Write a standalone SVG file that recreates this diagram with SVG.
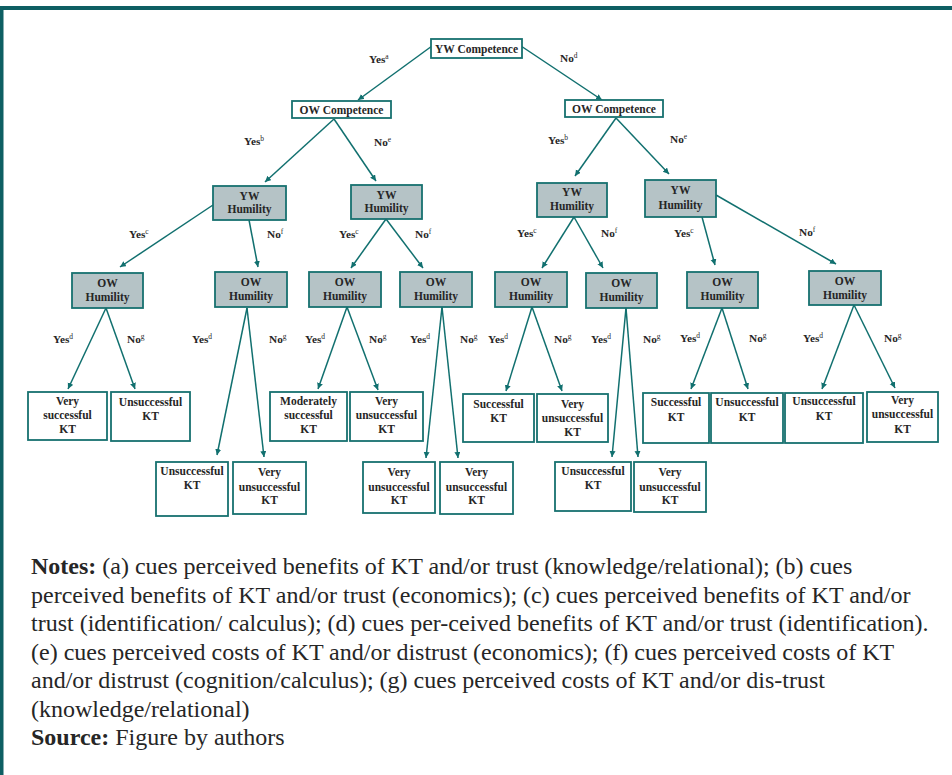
<svg xmlns="http://www.w3.org/2000/svg" width="952" height="775" viewBox="0 0 952 775">
<defs>
<marker id="ah" markerUnits="userSpaceOnUse" markerWidth="8" markerHeight="8" refX="6" refY="3" orient="auto">
<path d="M0,0 L6,3 L0,6 z" fill="#11706f"/>
</marker>
<style>
.frame{fill:#0e5f63}
.box{fill:#ffffff;stroke:#17716f;stroke-width:1.8}
.gbox{fill:#b5c3c6;stroke:#17716f;stroke-width:1.8}
.nt{font-family:"Liberation Serif","Times New Roman",serif;font-weight:bold;font-size:11.5px;fill:#262626;text-anchor:middle}
.lt{font-family:"Liberation Serif","Times New Roman",serif;font-weight:bold;font-size:11.3px;fill:#262626}
.sup{font-size:7.5px;font-weight:normal}
.edge{stroke:#11706f;stroke-width:1.5;fill:none;marker-end:url(#ah)}
.notes{font-family:"Liberation Serif","Times New Roman",serif;font-size:24px;fill:#262626}
.b{font-weight:bold}
</style>
</defs>
<rect x="0" y="0" width="952" height="775" fill="#ffffff"/>
<rect class="frame" x="0" y="6" width="952" height="4"/>
<rect class="frame" x="0" y="6" width="3.5" height="769"/>

<g id="connectors">
<line class="edge" x1="432" y1="46" x2="358" y2="100"/>
<line class="edge" x1="521" y1="46" x2="602" y2="100"/>
<line class="edge" x1="334" y1="119" x2="265" y2="182"/>
<line class="edge" x1="334" y1="119" x2="376" y2="181"/>
<line class="edge" x1="616" y1="118" x2="575" y2="176"/>
<line class="edge" x1="616" y1="118" x2="669" y2="174"/>
<line class="edge" x1="213" y1="205" x2="120" y2="267"/>
<line class="edge" x1="249" y1="220" x2="258" y2="267"/>
<line class="edge" x1="386" y1="219" x2="351" y2="268"/>
<line class="edge" x1="386" y1="219" x2="423" y2="268"/>
<line class="edge" x1="574" y1="217" x2="542" y2="268"/>
<line class="edge" x1="574" y1="217" x2="603" y2="268"/>
<line class="edge" x1="702" y1="217" x2="715" y2="265"/>
<line class="edge" x1="716" y1="195" x2="836" y2="264"/>
<line class="edge" x1="106" y1="308" x2="68" y2="389"/>
<line class="edge" x1="106" y1="308" x2="135" y2="389"/>
<line class="edge" x1="247" y1="308" x2="217" y2="455"/>
<line class="edge" x1="247" y1="308" x2="264" y2="457"/>
<line class="edge" x1="347" y1="307" x2="318" y2="389"/>
<line class="edge" x1="347" y1="307" x2="378" y2="390"/>
<line class="edge" x1="442" y1="307" x2="426" y2="458"/>
<line class="edge" x1="442" y1="307" x2="458" y2="458"/>
<line class="edge" x1="532" y1="307" x2="506" y2="391"/>
<line class="edge" x1="532" y1="307" x2="562" y2="391"/>
<line class="edge" x1="626" y1="308" x2="612" y2="457"/>
<line class="edge" x1="626" y1="308" x2="638" y2="457"/>
<line class="edge" x1="722" y1="308" x2="691" y2="389"/>
<line class="edge" x1="722" y1="308" x2="748" y2="389"/>
<line class="edge" x1="854" y1="305" x2="822" y2="389"/>
<line class="edge" x1="854" y1="305" x2="895" y2="388"/>
</g>

<g id="edge-labels">
<text class="lt" x="369" y="63">Yes<tspan class="sup" dy="-4">a</tspan></text>
<text class="lt" x="560" y="62">No<tspan class="sup" dy="-4">d</tspan></text>
<text class="lt" x="244" y="145">Yes<tspan class="sup" dy="-4">b</tspan></text>
<text class="lt" x="374" y="146">No<tspan class="sup" dy="-4">e</tspan></text>
<text class="lt" x="548" y="144">Yes<tspan class="sup" dy="-4">b</tspan></text>
<text class="lt" x="670" y="143">No<tspan class="sup" dy="-4">e</tspan></text>
<text class="lt" x="129" y="238">Yes<tspan class="sup" dy="-4">c</tspan></text>
<text class="lt" x="267" y="238">No<tspan class="sup" dy="-4">f</tspan></text>
<text class="lt" x="339" y="238">Yes<tspan class="sup" dy="-4">c</tspan></text>
<text class="lt" x="415" y="238">No<tspan class="sup" dy="-4">f</tspan></text>
<text class="lt" x="517" y="237">Yes<tspan class="sup" dy="-4">c</tspan></text>
<text class="lt" x="601" y="237">No<tspan class="sup" dy="-4">f</tspan></text>
<text class="lt" x="674" y="237">Yes<tspan class="sup" dy="-4">c</tspan></text>
<text class="lt" x="799" y="236">No<tspan class="sup" dy="-4">f</tspan></text>
<text class="lt" x="53" y="343">Yes<tspan class="sup" dy="-4">d</tspan></text>
<text class="lt" x="127" y="343">No<tspan class="sup" dy="-4">g</tspan></text>
<text class="lt" x="192" y="343">Yes<tspan class="sup" dy="-4">d</tspan></text>
<text class="lt" x="269" y="343">No<tspan class="sup" dy="-4">g</tspan></text>
<text class="lt" x="305" y="343">Yes<tspan class="sup" dy="-4">d</tspan></text>
<text class="lt" x="369" y="343">No<tspan class="sup" dy="-4">g</tspan></text>
<text class="lt" x="410" y="343">Yes<tspan class="sup" dy="-4">d</tspan></text>
<text class="lt" x="460" y="343">No<tspan class="sup" dy="-4">g</tspan></text>
<text class="lt" x="488" y="343">Yes<tspan class="sup" dy="-4">d</tspan></text>
<text class="lt" x="554" y="343">No<tspan class="sup" dy="-4">g</tspan></text>
<text class="lt" x="591" y="343">Yes<tspan class="sup" dy="-4">d</tspan></text>
<text class="lt" x="643" y="343">No<tspan class="sup" dy="-4">g</tspan></text>
<text class="lt" x="680" y="342">Yes<tspan class="sup" dy="-4">d</tspan></text>
<text class="lt" x="749" y="342">No<tspan class="sup" dy="-4">g</tspan></text>
<text class="lt" x="803" y="342">Yes<tspan class="sup" dy="-4">d</tspan></text>
<text class="lt" x="884" y="342">No<tspan class="sup" dy="-4">g</tspan></text>
</g>

<g id="yw-competence"><rect class="box" x="431" y="39" width="91" height="19"/><text class="nt" x="476.5" y="53">YW Competence</text></g>
<g id="ow-competence-left"><rect class="box" x="292" y="101" width="99" height="17"/><text class="nt" x="341.5" y="114">OW Competence</text></g>
<g id="ow-competence-right"><rect class="box" x="565" y="100" width="98" height="17"/><text class="nt" x="614" y="113">OW Competence</text></g>

<g id="yw-humility-1"><rect class="gbox" x="213" y="186" width="73" height="34"/><text class="nt" x="249.5" y="200">YW</text><text class="nt" x="249.5" y="213">Humility</text></g>
<g id="yw-humility-2"><rect class="gbox" x="351" y="185" width="71" height="34"/><text class="nt" x="386.5" y="199">YW</text><text class="nt" x="386.5" y="212">Humility</text></g>
<g id="yw-humility-3"><rect class="gbox" x="537" y="183" width="70" height="34"/><text class="nt" x="572" y="196">YW</text><text class="nt" x="572" y="210">Humility</text></g>
<g id="yw-humility-4"><rect class="gbox" x="645" y="180" width="71" height="37"/><text class="nt" x="680.5" y="194">YW</text><text class="nt" x="680.5" y="209">Humility</text></g>

<g id="ow-humility-1"><rect class="gbox" x="72" y="273" width="71" height="35"/><text class="nt" x="107.5" y="287">OW</text><text class="nt" x="107.5" y="301">Humility</text></g>
<g id="ow-humility-2"><rect class="gbox" x="215" y="272" width="72" height="35"/><text class="nt" x="251" y="286">OW</text><text class="nt" x="251" y="300">Humility</text></g>
<g id="ow-humility-3"><rect class="gbox" x="309" y="272" width="72" height="35"/><text class="nt" x="345" y="286">OW</text><text class="nt" x="345" y="300">Humility</text></g>
<g id="ow-humility-4"><rect class="gbox" x="400" y="272" width="72" height="35"/><text class="nt" x="436" y="286">OW</text><text class="nt" x="436" y="300">Humility</text></g>
<g id="ow-humility-5"><rect class="gbox" x="495" y="272" width="72" height="35"/><text class="nt" x="531" y="286">OW</text><text class="nt" x="531" y="300">Humility</text></g>
<g id="ow-humility-6"><rect class="gbox" x="586" y="273" width="71" height="35"/><text class="nt" x="621.5" y="287">OW</text><text class="nt" x="621.5" y="301">Humility</text></g>
<g id="ow-humility-7"><rect class="gbox" x="687" y="272" width="71" height="36"/><text class="nt" x="722.5" y="286">OW</text><text class="nt" x="722.5" y="300">Humility</text></g>
<g id="ow-humility-8"><rect class="gbox" x="809" y="271" width="72" height="34"/><text class="nt" x="845" y="285">OW</text><text class="nt" x="845" y="299">Humility</text></g>

<g id="leaf-1"><rect class="box" x="28" y="392" width="79" height="48"/><text class="nt" x="67.5" y="405">Very</text><text class="nt" x="67.5" y="419">successful</text><text class="nt" x="67.5" y="433">KT</text></g>
<g id="leaf-2"><rect class="box" x="111" y="392" width="79" height="49"/><text class="nt" x="150.5" y="406">Unsuccessful</text><text class="nt" x="150.5" y="420">KT</text></g>
<g id="leaf-3"><rect class="box" x="270" y="392" width="77" height="49"/><text class="nt" x="308.5" y="405">Moderately</text><text class="nt" x="308.5" y="419">successful</text><text class="nt" x="308.5" y="433">KT</text></g>
<g id="leaf-4"><rect class="box" x="350" y="392" width="73" height="49"/><text class="nt" x="386.5" y="405">Very</text><text class="nt" x="386.5" y="419">unsuccessful</text><text class="nt" x="386.5" y="433">KT</text></g>
<g id="leaf-5"><rect class="box" x="463" y="394" width="71" height="48"/><text class="nt" x="498.5" y="408">Successful</text><text class="nt" x="498.5" y="422">KT</text></g>
<g id="leaf-6"><rect class="box" x="537" y="394" width="71" height="48"/><text class="nt" x="572.5" y="408">Very</text><text class="nt" x="572.5" y="422">unsuccessful</text><text class="nt" x="572.5" y="436">KT</text></g>
<g id="leaf-7"><rect class="box" x="643" y="393" width="66" height="50"/><text class="nt" x="676" y="406">Successful</text><text class="nt" x="676" y="421">KT</text></g>
<g id="leaf-8"><rect class="box" x="711" y="393" width="72" height="50"/><text class="nt" x="747" y="406">Unsuccessful</text><text class="nt" x="747" y="421">KT</text></g>
<g id="leaf-9"><rect class="box" x="785" y="393" width="78" height="50"/><text class="nt" x="824" y="405">Unsuccessful</text><text class="nt" x="824" y="420">KT</text></g>
<g id="leaf-10"><rect class="box" x="867" y="392" width="71" height="50"/><text class="nt" x="902.5" y="404">Very</text><text class="nt" x="902.5" y="418">unsuccessful</text><text class="nt" x="902.5" y="433">KT</text></g>
<g id="leaf-11"><rect class="box" x="156" y="462" width="72" height="54"/><text class="nt" x="192" y="475">Unsuccessful</text><text class="nt" x="192" y="489">KT</text></g>
<g id="leaf-12"><rect class="box" x="233" y="462" width="73" height="52"/><text class="nt" x="269.5" y="476">Very</text><text class="nt" x="269.5" y="491">unsuccessful</text><text class="nt" x="269.5" y="504">KT</text></g>
<g id="leaf-13"><rect class="box" x="363" y="462" width="72" height="51"/><text class="nt" x="399" y="476">Very</text><text class="nt" x="399" y="491">unsuccessful</text><text class="nt" x="399" y="504">KT</text></g>
<g id="leaf-14"><rect class="box" x="440" y="462" width="73" height="52"/><text class="nt" x="476.5" y="476">Very</text><text class="nt" x="476.5" y="491">unsuccessful</text><text class="nt" x="476.5" y="504">KT</text></g>
<g id="leaf-15"><rect class="box" x="555" y="462" width="76" height="49"/><text class="nt" x="593" y="475">Unsuccessful</text><text class="nt" x="593" y="489">KT</text></g>
<g id="leaf-16"><rect class="box" x="634" y="462" width="72" height="50"/><text class="nt" x="670" y="476">Very</text><text class="nt" x="670" y="491">unsuccessful</text><text class="nt" x="670" y="504">KT</text></g>

<g id="notes" class="notes">
<text x="31" y="574"><tspan class="b">Notes:</tspan> (a) cues perceived benefits of KT and/or trust (knowledge/relational); (b) cues</text>
<text x="31" y="602.5">perceived benefits of KT and/or trust (economics); (c) cues perceived benefits of KT and/or</text>
<text x="31" y="631">trust (identification/ calculus); (d) cues per-ceived benefits of KT and/or trust (identification).</text>
<text x="31" y="659.5">(e) cues perceived costs of KT and/or distrust (economics); (f) cues perceived costs of KT</text>
<text x="31" y="688">and/or distrust (cognition/calculus); (g) cues perceived costs of KT and/or dis-trust</text>
<text x="31" y="716.5">(knowledge/relational)</text>
<text x="31" y="745"><tspan class="b">Source:</tspan> Figure by authors</text>
</g>
</svg>
